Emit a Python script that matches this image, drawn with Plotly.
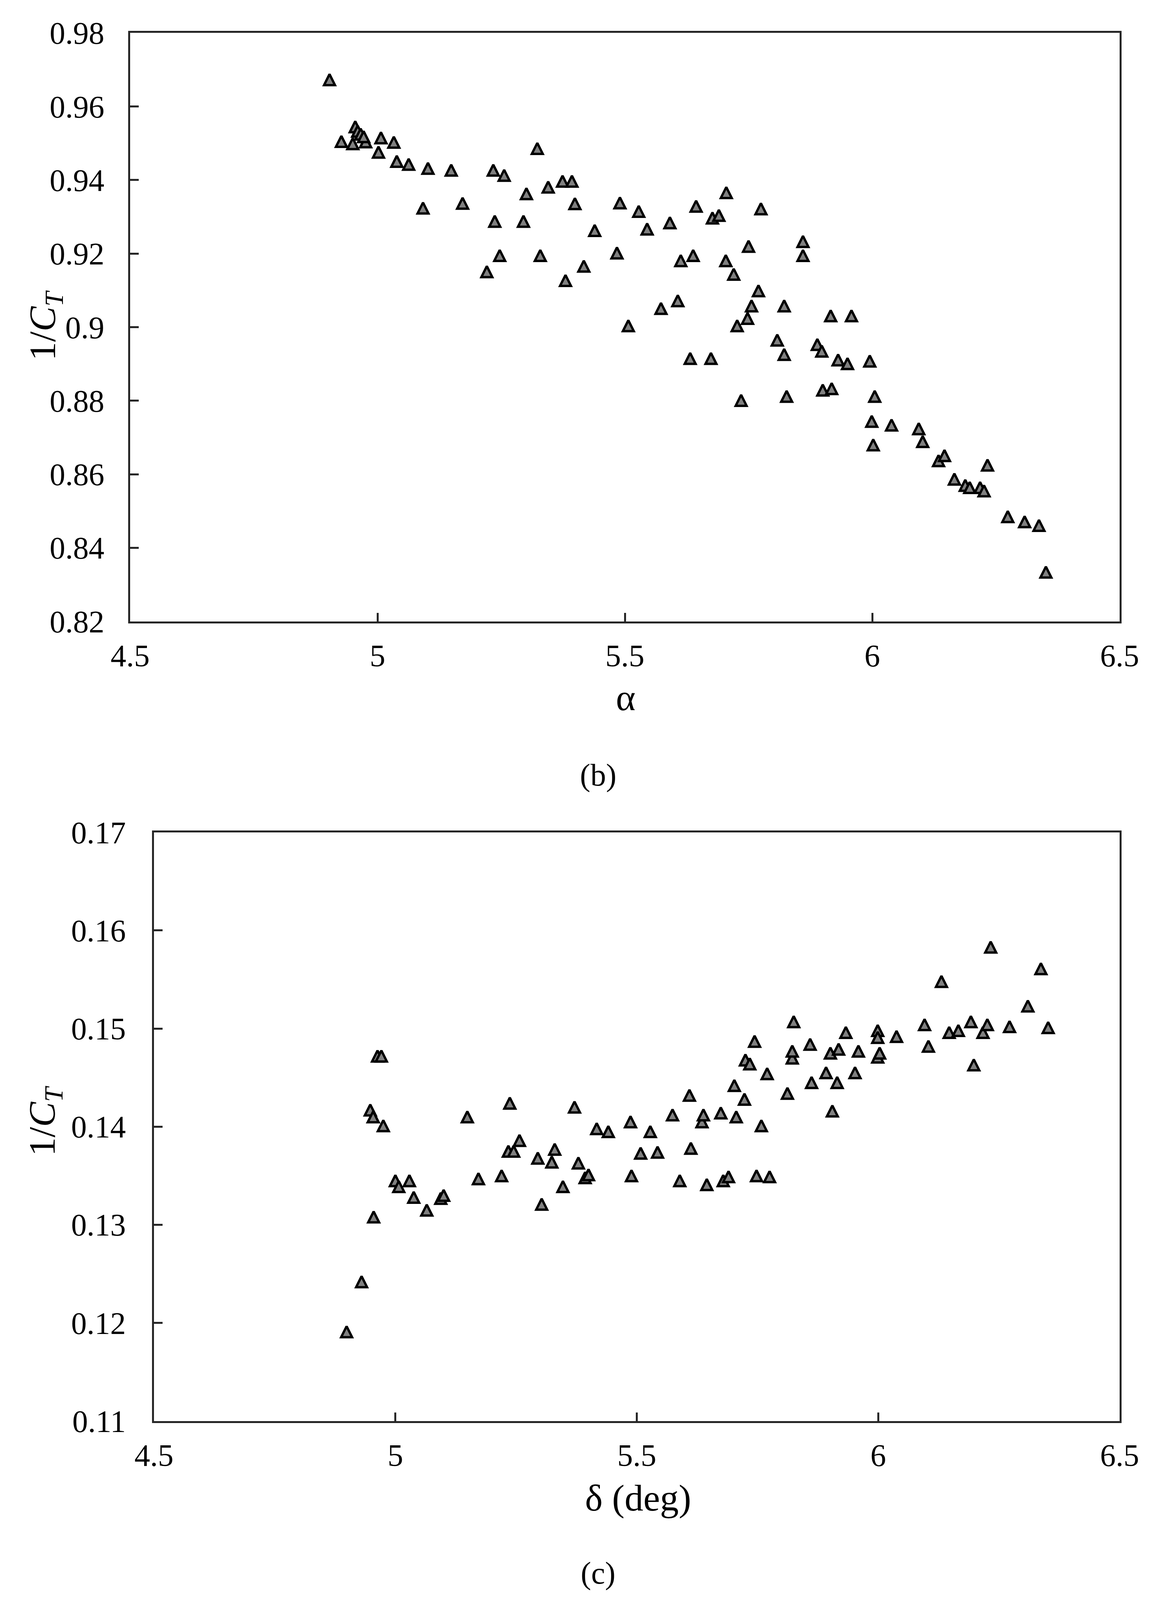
import plotly.graph_objects as go

# The reference is 2953 x 4666; the capture window is 2953 x 4096,
# so the layout keeps the reference proportions in paper units.
W, H = 2953, 4096
H_REF = 4666

# ---------------- data: panel (b) ----------------
alpha_b = [4.903, 4.927, 4.950, 4.976, 4.955, 4.960, 4.966, 4.972, 5.007, 5.033,
           5.002, 5.039, 5.063, 5.102, 5.092, 5.149, 5.172, 5.221, 5.234, 5.256,
           5.237, 5.247, 5.295, 5.301, 5.323, 5.329, 5.345, 5.374, 5.393, 5.399,
           5.380, 5.417, 5.439, 5.484, 5.490, 5.507, 5.528, 5.545, 5.573, 5.591,
           5.607, 5.613, 5.638, 5.644, 5.632, 5.674, 5.677, 5.690, 5.705, 5.704,
           5.720, 5.727, 5.735, 5.748, 5.750, 5.756, 5.770, 5.775, 5.808, 5.822,
           5.822, 5.827, 5.860, 5.860, 5.889, 5.898, 5.900, 5.918, 5.916, 5.931,
           5.950, 5.958, 5.995, 6.005, 5.999, 6.002, 6.039, 6.094, 6.102, 6.134,
           6.146, 6.166, 6.188, 6.197, 6.218, 6.226, 6.233, 6.274, 6.308, 6.337,
           6.351]
inv_ct_b = [0.9673, 0.9505, 0.9499, 0.9504, 0.9545, 0.9533, 0.9525, 0.9518, 0.9515, 0.9503,
            0.9476, 0.9451, 0.9443, 0.9432, 0.9324, 0.9427, 0.9337, 0.9151, 0.9427, 0.9413,
            0.9288, 0.9195, 0.9288, 0.9363, 0.9486, 0.9195, 0.9381, 0.9397, 0.9397, 0.9336,
            0.9127, 0.9166, 0.9263, 0.9202, 0.9338, 0.9004, 0.9315, 0.9267, 0.9051, 0.9284,
            0.9072, 0.9181, 0.9195, 0.9329, 0.8915, 0.8915, 0.9297, 0.9304, 0.9366, 0.9181,
            0.9144, 0.9004, 0.8801, 0.9024, 0.9220, 0.9058, 0.9099, 0.9322, 0.8965, 0.9058,
            0.8926, 0.8812, 0.9233, 0.9195, 0.8953, 0.8935, 0.8829, 0.8833, 0.9031, 0.8911,
            0.8901, 0.9031, 0.8908, 0.8812, 0.8744, 0.8680, 0.8734, 0.8724, 0.8689, 0.8637,
            0.8651, 0.8587, 0.8570, 0.8564, 0.8564, 0.8555, 0.8625, 0.8485, 0.8471, 0.8461,
            0.8334]

# ---------------- data: panel (c) ----------------
delta_c = [4.899, 4.930, 4.955, 4.948, 4.954, 4.963, 4.971, 4.975, 5.000, 5.007,
           5.029, 5.038, 5.065, 5.094, 5.100, 5.149, 5.172, 5.220, 5.237, 5.234,
           5.245, 5.257, 5.295, 5.303, 5.324, 5.330, 5.347, 5.371, 5.379, 5.393,
           5.400, 5.417, 5.441, 5.487, 5.489, 5.508, 5.528, 5.543, 5.574, 5.589,
           5.609, 5.612, 5.635, 5.638, 5.645, 5.674, 5.679, 5.690, 5.702, 5.706,
           5.723, 5.725, 5.734, 5.744, 5.748, 5.758, 5.770, 5.775, 5.812, 5.822,
           5.822, 5.825, 5.859, 5.862, 5.892, 5.901, 5.905, 5.915, 5.918, 5.933,
           5.952, 5.959, 5.999, 5.999, 5.999, 6.003, 6.038, 6.096, 6.104, 6.131,
           6.147, 6.166, 6.192, 6.198, 6.217, 6.226, 6.233, 6.272, 6.310, 6.337,
           6.352]
inv_ct_c = [0.1191, 0.1242, 0.1308, 0.1417, 0.1410, 0.1472, 0.1472, 0.1401, 0.1345, 0.1339,
            0.1345, 0.1328, 0.1315, 0.1327, 0.1330, 0.1410, 0.1347, 0.1350, 0.1424, 0.1375,
            0.1375, 0.1386, 0.1368, 0.1321, 0.1364, 0.1377, 0.1339, 0.1420, 0.1363, 0.1348,
            0.1351, 0.1398, 0.1395, 0.1405, 0.1350, 0.1373, 0.1395, 0.1374, 0.1412, 0.1345,
            0.1432, 0.1378, 0.1405, 0.1412, 0.1341, 0.1414, 0.1345, 0.1349, 0.1442, 0.1410,
            0.1428, 0.1468, 0.1464, 0.1487, 0.1350, 0.1401, 0.1454, 0.1349, 0.1434, 0.1470,
            0.1477, 0.1507, 0.1484, 0.1445, 0.1455, 0.1475, 0.1416, 0.1445, 0.1479, 0.1496,
            0.1455, 0.1477, 0.1471, 0.1498, 0.1491, 0.1475, 0.1492, 0.1504, 0.1482, 0.1548,
            0.1496, 0.1498, 0.1507, 0.1463, 0.1496, 0.1504, 0.1583, 0.1502, 0.1523, 0.1561,
            0.1501]

# ---------------- ticks ----------------
x_ticks = [4.5, 5, 5.5, 6, 6.5]
x_ticktext = ["4.5", "5", "5.5", "6", "6.5"]
yb_ticks = [0.82, 0.84, 0.86, 0.88, 0.90, 0.92, 0.94, 0.96, 0.98]
yb_ticktext = ["0.82", "0.84", "0.86", "0.88", "0.9", "0.92", "0.94", "0.96", "0.98"]
yc_ticks = [0.11, 0.12, 0.13, 0.14, 0.15, 0.16, 0.17]
yc_ticktext = ["0.11", "0.12", "0.13", "0.14", "0.15", "0.16", "0.17"]

FONT = "Liberation Serif, Times New Roman, serif"
LINE = "#262626"
MSIZE = 28

# upward triangle, centred on the data point
marker = dict(symbol="arrow-down", angle=180, standoff=MSIZE / 2, size=MSIZE,
              color="#808080", line=dict(color="#000000", width=6))

fig = go.Figure()
fig.add_trace(go.Scatter(x=alpha_b, y=inv_ct_b, mode="markers", marker=marker,
                         xaxis="x", yaxis="y", showlegend=False))
fig.add_trace(go.Scatter(x=delta_c, y=inv_ct_c, mode="markers", marker=marker,
                         xaxis="x2", yaxis="y2", showlegend=False))

def px_x(p):
    return p / W

def px_y(p):
    return 1 - p / H_REF

axis_common = dict(showline=True, linewidth=5, linecolor=LINE, mirror=True,
                   ticks="inside", ticklen=22, tickwidth=5, tickcolor=LINE,
                   showgrid=False, zeroline=False, automargin=False,
                   tickfont=dict(family=FONT, size=80, color="#000000"))
xa = dict(axis_common, ticklabelstandoff=14)
ya1 = dict(axis_common, ticklabelstandoff=45)
ya2 = dict(axis_common, ticklabelstandoff=51)

fig.update_layout(
    width=W, height=H, autosize=False,
    margin=dict(l=0, r=0, t=0, b=0, pad=0, autoexpand=False),
    paper_bgcolor="white", plot_bgcolor="white",
    font=dict(family=FONT, color="#000000"),
    xaxis=dict(domain=[px_x(325), px_x(2857)], range=[4.5, 6.5], anchor="y",
               tickvals=x_ticks, ticktext=x_ticktext, **xa),
    yaxis=dict(domain=[px_y(1803), px_y(87)], range=[0.82, 0.98], anchor="x",
               tickvals=yb_ticks, ticktext=yb_ticktext, **ya1),
    xaxis2=dict(domain=[px_x(386), px_x(2857)], range=[4.5, 6.5], anchor="y2",
                tickvals=x_ticks, ticktext=x_ticktext, **xa),
    yaxis2=dict(domain=[px_y(4135), px_y(2418)], range=[0.11, 0.17], anchor="x2",
                tickvals=yc_ticks, ticktext=yc_ticktext, **ya2),
)

def note(text, x, y, size, angle=0):
    return dict(text=text, textangle=angle, x=px_x(x), y=px_y(y),
                xref="paper", yref="paper", xanchor="center", yanchor="middle",
                showarrow=False, font=dict(family=FONT, size=size, color="#000000"))

ann = [
    note("1/<i>C</i><sub><i>T</i></sub>", 107, 940, 96, -90),
    note("1/<i>C</i><sub><i>T</i></sub>", 107, 3260, 96, -90),
    note("α", 1593, 2025, 96),
    note("δ (deg)", 1625, 4359, 96),
    note("(b)", 1522, 2252, 80),
    note("(c)", 1523, 4579, 80),
]
fig.update_layout(annotations=ann)

fig.write_html("out.html")
